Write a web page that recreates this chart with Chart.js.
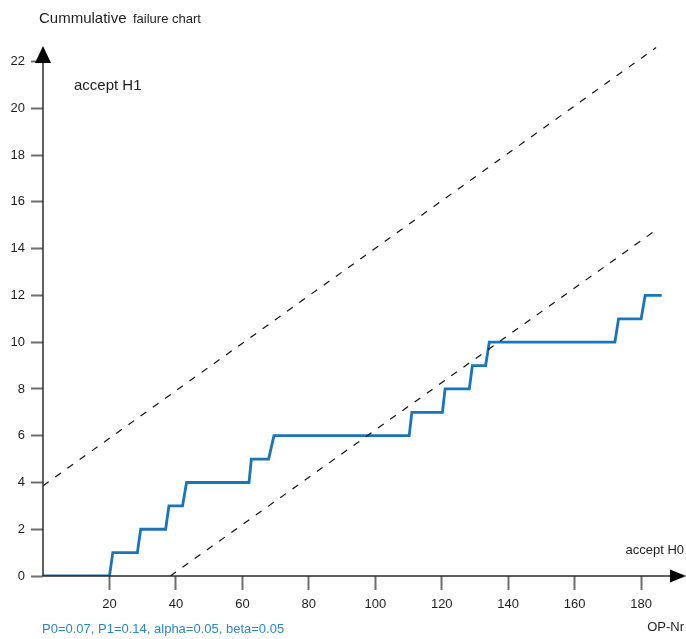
<!DOCTYPE html>
<html>
<head>
<meta charset="utf-8">
<script src="https://cdn.jsdelivr.net/npm/chart.js@4.4.1/dist/chart.umd.min.js"></script>
<style>
  html, body { margin: 0; padding: 0; background: #fff; }
  canvas { display: block; }
</style>
</head>
<body>
<canvas id="chart" width="686" height="639"></canvas>
<script>
// Operation numbers and cumulative failure counts (step trace)
const opNr = [0, 20, 21, 28.4, 29.4, 36.9, 37.9, 42, 43.2, 62, 62.7, 67.9, 69.5,
              110.2, 111, 120.2, 121, 128.3, 129.2, 133.2, 134.3, 172.1, 173.2, 180, 181.2, 186.2];
const failures = [0, 0, 1, 1, 2, 2, 3, 3, 4, 4, 5, 5, 6,
                  6, 7, 7, 8, 8, 9, 9, 10, 10, 11, 11, 12, 12];

// Decision boundaries (start and end points)
const rejectLineX = [0, 184.5];
const rejectLineY = [3.86, 22.6];
const acceptLineX = [38.3, 184.5];
const acceptLineY = [0, 14.8];

// Axis tick values
const xTicks = [20, 40, 60, 80, 100, 120, 140, 160, 180];
const yTicks = [0, 2, 4, 6, 8, 10, 12, 14, 16, 18, 20, 22];

const FONT = '"Liberation Sans", Arial, sans-serif';
const BLUE = '#1a74b9';

const toPoints = (xs, ys) => xs.map((x, i) => ({ x: x, y: ys[i] }));

// Axis lines with arrowheads and free text
const decorations = {
  id: 'decorations',
  afterDraw(chart) {
    const ctx = chart.ctx;
    const a = chart.chartArea;
    const xs = chart.scales.x, ys = chart.scales.y;
    const x0 = xs.getPixelForValue(0);
    const y0 = ys.getPixelForValue(0);
    ctx.save();
    ctx.strokeStyle = '#2b2b2b';
    ctx.fillStyle = '#000';
    ctx.lineWidth = 1.5;
    // horizontal axis
    ctx.beginPath();
    ctx.moveTo(x0, y0);
    ctx.lineTo(a.right - 14, y0);
    ctx.stroke();
    ctx.beginPath();
    ctx.moveTo(a.right, y0);
    ctx.lineTo(a.right - 16, y0 - 6.5);
    ctx.lineTo(a.right - 16, y0 + 6.5);
    ctx.closePath();
    ctx.fill();
    // vertical axis
    ctx.beginPath();
    ctx.moveTo(x0, y0);
    ctx.lineTo(x0, a.top + 18);
    ctx.stroke();
    ctx.beginPath();
    ctx.moveTo(x0, a.top + 4);
    ctx.lineTo(x0 - 8, a.top + 21);
    ctx.lineTo(x0 + 8, a.top + 21);
    ctx.closePath();
    ctx.fill();

    // texts
    ctx.fillStyle = '#1e1e1e';
    ctx.textBaseline = 'alphabetic';
    ctx.textAlign = 'left';
    ctx.font = '15px ' + FONT;
    ctx.fillText('Cummulative', 39, 23);
    ctx.font = '13px ' + FONT;
    ctx.fillText('failure chart', 133, 23);
    ctx.font = '15px ' + FONT;
    ctx.fillText('accept H1', 74, 90);
    ctx.font = '13px ' + FONT;
    ctx.textAlign = 'right';
    ctx.fillText('accept H0', 684, 554);
    ctx.fillText('OP-Nr', 684, 631);
    ctx.textAlign = 'left';
    ctx.fillStyle = '#2d86c8';
    ctx.fillText('P0=0.07, P1=0.14, alpha=0.05, beta=0.05', 42, 633);
    ctx.restore();
  }
};

new Chart(document.getElementById('chart'), {
  type: 'scatter',
  data: {
    datasets: [
      {
        data: toPoints(rejectLineX, rejectLineY),
        showLine: true,
        borderColor: '#111',
        borderWidth: 1.2,
        borderDash: [7, 8],
        pointRadius: 0,
        tension: 0
      },
      {
        data: toPoints(acceptLineX, acceptLineY),
        showLine: true,
        borderColor: '#111',
        borderWidth: 1.2,
        borderDash: [7, 8],
        pointRadius: 0,
        tension: 0
      },
      {
        data: toPoints(opNr, failures),
        showLine: true,
        borderColor: BLUE,
        borderWidth: 2.8,
        pointRadius: 0,
        tension: 0
      }
    ]
  },
  options: {
    responsive: false,
    devicePixelRatio: 1,
    animation: false,
    events: [],
    layout: { padding: { top: 42, left: 0, right: 0, bottom: 0 } },
    plugins: {
      legend: { display: false },
      tooltip: { enabled: false }
    },
    scales: {
      x: {
        type: 'linear',
        min: 0,
        max: 193.5,
        afterBuildTicks: s => { s.ticks = xTicks.map(v => ({ value: v })); },
        afterFit: s => { s.height = 63; },
        border: { display: false },
        grid: {
          drawOnChartArea: false,
          drawTicks: true,
          tickLength: 14,
          tickWidth: 2,
          tickColor: '#6e6e6e'
        },
        ticks: {
          color: '#1e1e1e',
          font: { family: FONT, size: 13 },
          padding: 7,
          maxRotation: 0
        }
      },
      y: {
        type: 'linear',
        min: 0,
        max: 22.84,
        afterBuildTicks: s => { s.ticks = yTicks.map(v => ({ value: v })); },
        afterFit: s => { s.width = 43; },
        border: { display: false },
        grid: {
          drawOnChartArea: false,
          drawTicks: true,
          tickLength: 12,
          tickWidth: 2,
          tickColor: '#6e6e6e'
        },
        ticks: {
          color: '#1e1e1e',
          font: { family: FONT, size: 13 },
          padding: 6
        }
      }
    }
  },
  plugins: [decorations]
});
</script>
</body>
</html>
